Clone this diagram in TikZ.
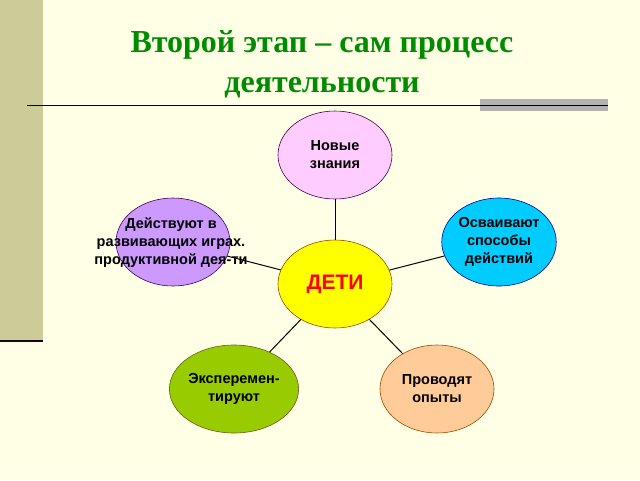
\documentclass[tikz,border=0pt]{standalone}
\usepackage{fontspec}
\setmainfont{Liberation Serif}
\newfontfamily\lsans{Liberation Sans}
\usetikzlibrary{shapes.geometric}
\begin{document}
\begin{tikzpicture}[x=1pt,y=-1pt,
  ell/.style={ellipse,draw=#1!60!black,line width=0.6pt,minimum width=114pt,minimum height=88pt,inner sep=0pt,align=center,font=\lsans\bfseries\fontsize{14.5}{18}\selectfont},
  conn/.style={line width=1pt,black}]
\fill[fill={rgb,255:red,255;green,255;blue,230}] (0,0) rectangle (640,480);
\useasboundingbox (0,0) rectangle (640,480);
\fill[fill={rgb,255:red,204;green,204;blue,153}] (0,0) rectangle (43,340);
\draw[line width=1.8pt,black!85!purple] (0,341) -- (43,341);
\fill[gray!60] (480,99) rectangle (608,111);
\draw[line width=1pt] (27,105) -- (608,105);
\node[font=\bfseries\fontsize{32}{40}\selectfont,text={rgb,255:red,0;green,140;blue,0},align=center] (title) at (322,64) {Второй этап – сам процесс\\деятельности};
\node[ell=violet,fill={rgb,255:red,255;green,204;blue,255}] (top) at (335,155) {Новые\\ знания};
\node[ell=blue,fill={rgb,255:red,0;green,204;blue,255}] (right) at (499,242) {Осваивают\\способы\\ действий};
\node[ell=violet,fill={rgb,255:red,204;green,153;blue,255}] (left) at (173,242) {};
\node[ell=olive,fill={rgb,255:red,153;green,204;blue,0}] (bl) at (234,389) {Эксперемен-\\тируют};
\node[ell=orange,fill={rgb,255:red,255;green,204;blue,153}] (br) at (437,389) {Проводят\\ опыты};
\node[ell=orange,fill={rgb,255:red,255;green,255;blue,0}] (c) at (335,284) {};
\draw[conn] (c) -- (top);
\draw[conn] (c) -- (right);
\draw[conn] (c) -- (bl);
\draw[conn] (c) -- (br);
\draw[conn] (c) -- (left);
\node[align=center,font=\lsans\bfseries\fontsize{14.5}{18}\selectfont] (lt) at (171,243) {Действуют в\\развивающих играх.\\продуктивной дея-ти};
\node[font=\lsans\bfseries\fontsize{21}{24}\selectfont,text=red] (ct) at (335,284) {ДЕТИ};
\end{tikzpicture}
\end{document}
